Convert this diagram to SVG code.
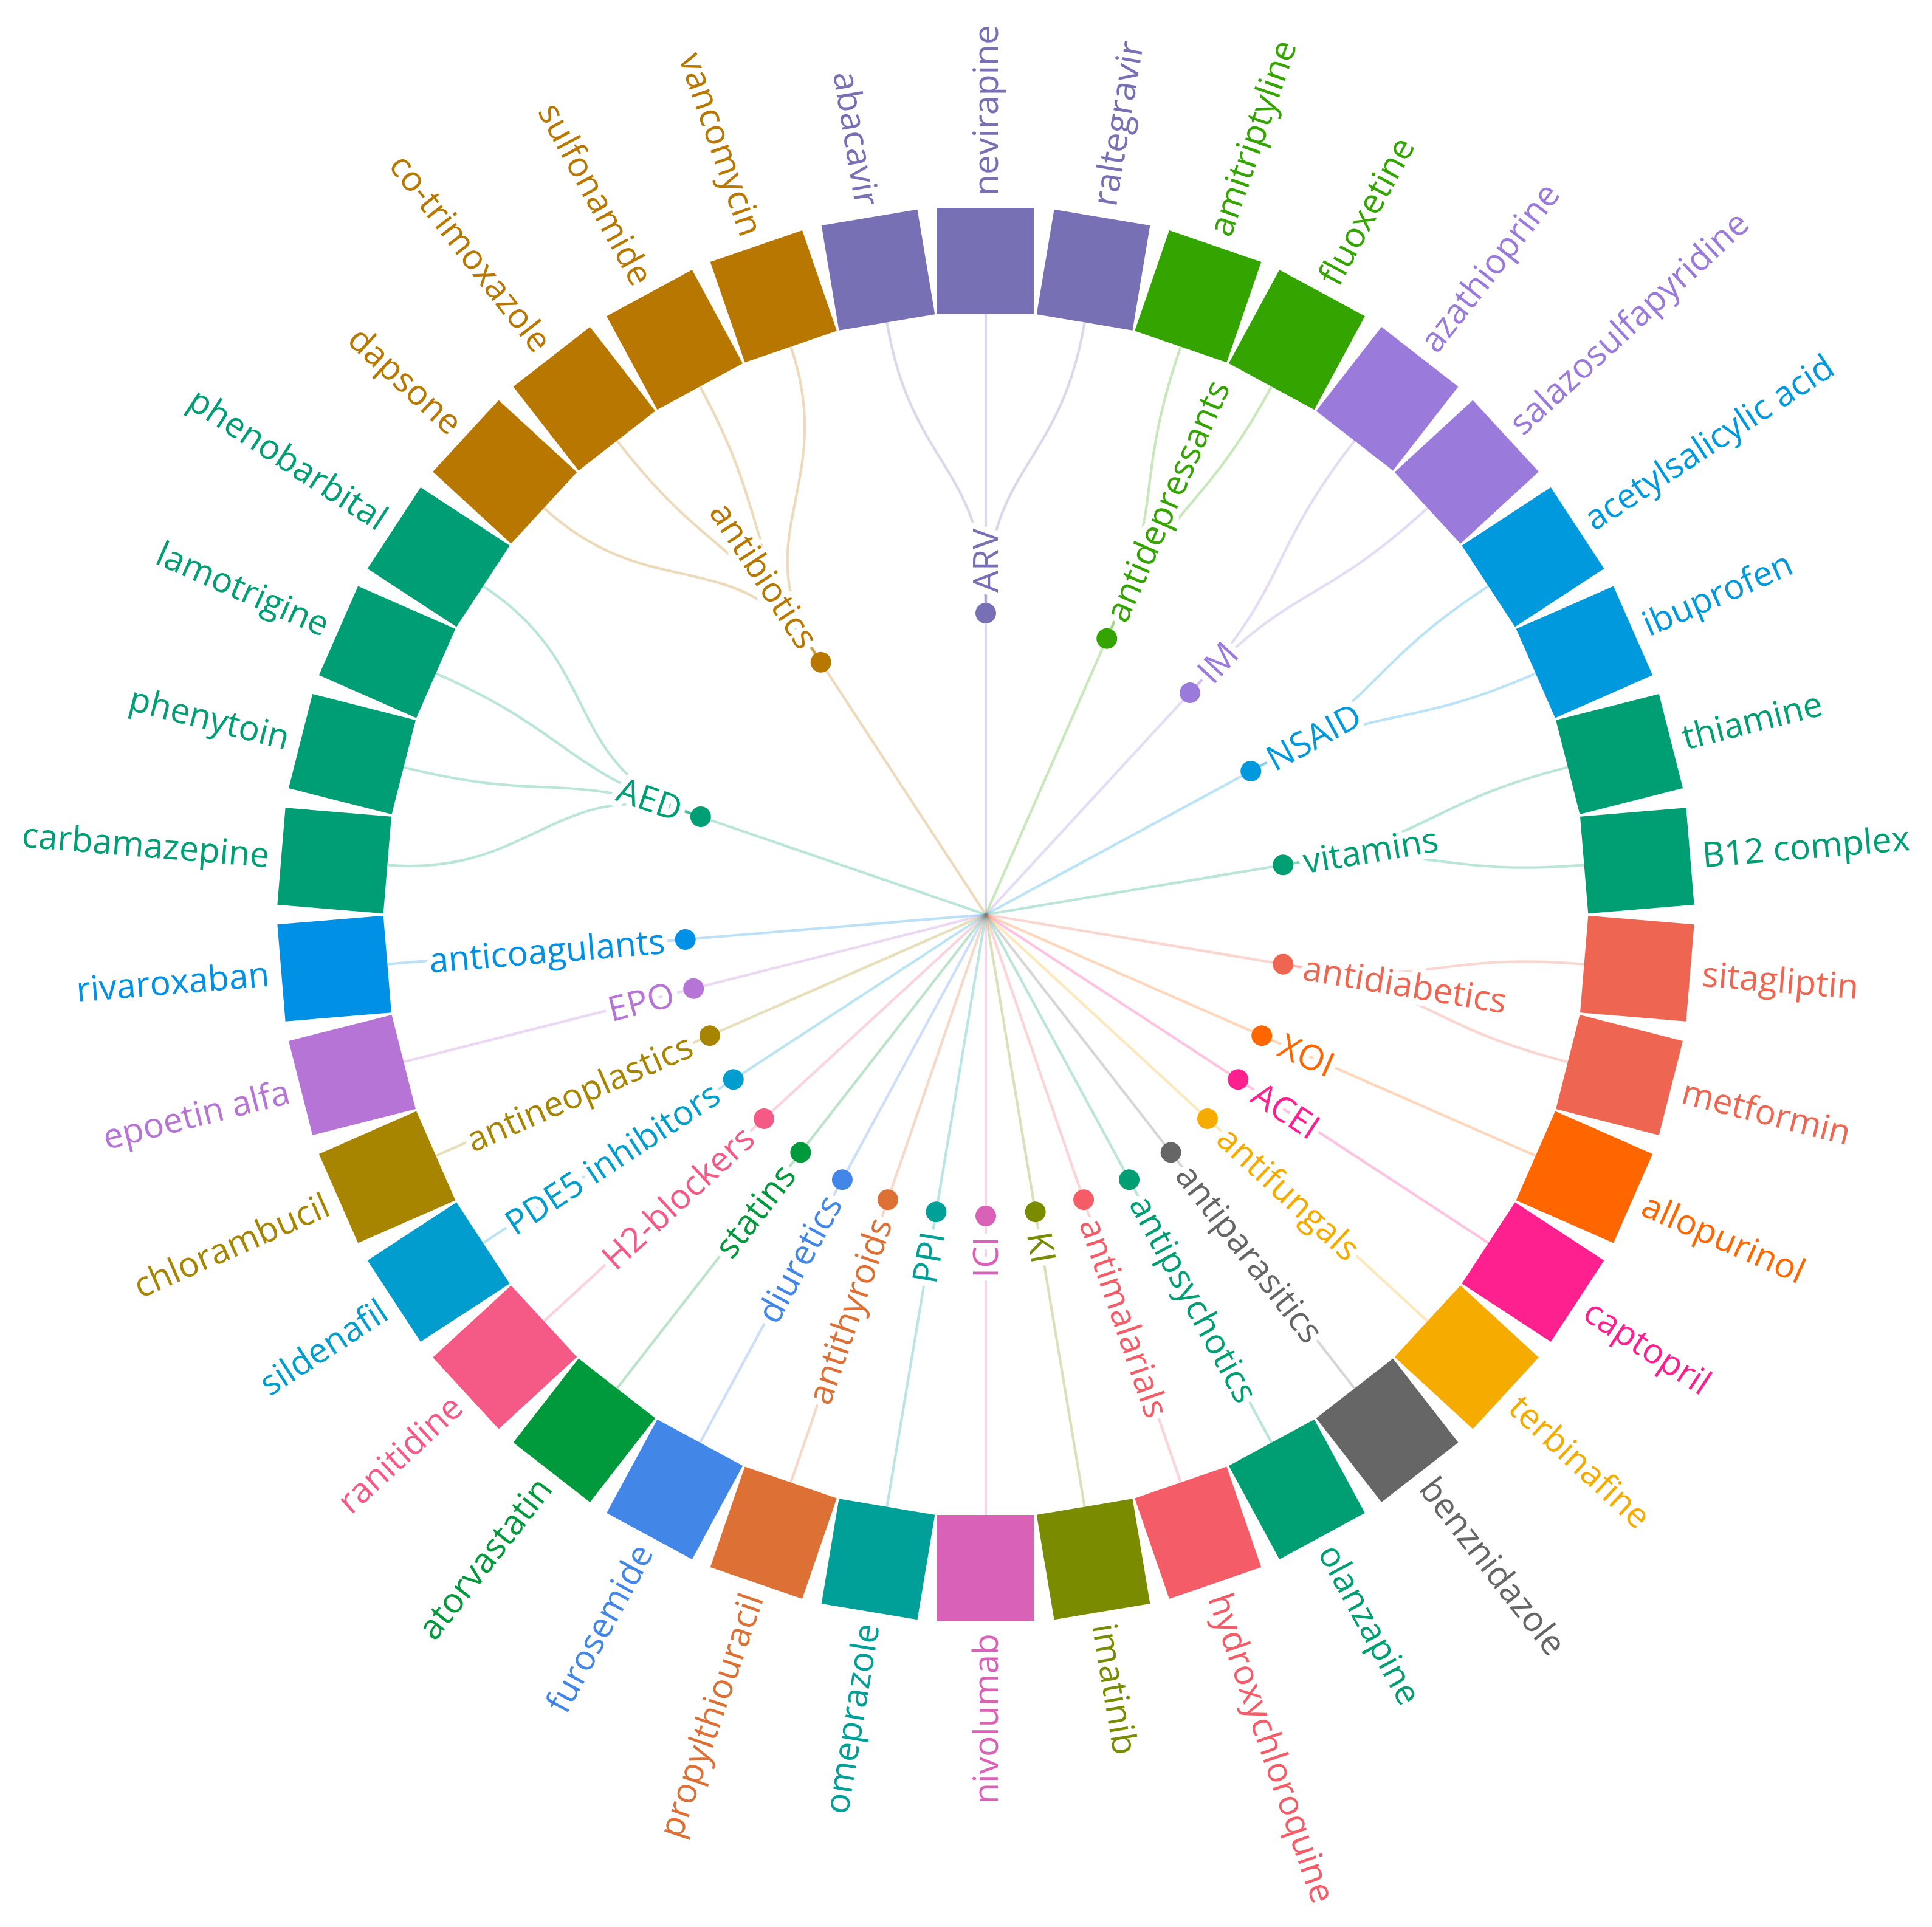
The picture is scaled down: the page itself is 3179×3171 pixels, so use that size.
<svg xmlns="http://www.w3.org/2000/svg" width="3179" height="3171" viewBox="0 0 3179 3171">
<style>
.t{font-family:"Open Sans","Noto Sans","Liberation Sans",sans-serif;font-size:57px;}
.h{stroke:#fff;stroke-width:20px;stroke-linejoin:round;paint-order:stroke;}
.lk{fill:none;stroke-width:4.2;stroke-opacity:0.27;}
.arv{fill:#7870B5}.Sarv{stroke:#7870B5}
.adp{fill:#34A500}.Sadp{stroke:#34A500}
.im{fill:#9A7BDB}.Sim{stroke:#9A7BDB}
.nsaid{fill:#0099DD}.Snsaid{stroke:#0099DD}
.vit{fill:#009E73}.Svit{stroke:#009E73}
.adb{fill:#EE6652}.Sadb{stroke:#EE6652}
.xoi{fill:#FF6600}.Sxoi{stroke:#FF6600}
.acei{fill:#FF2090}.Sacei{stroke:#FF2090}
.afu{fill:#F5AB00}.Safu{stroke:#F5AB00}
.apa{fill:#666666}.Sapa{stroke:#666666}
.aps{fill:#009E73}.Saps{stroke:#009E73}
.ama{fill:#F45D68}.Sama{stroke:#F45D68}
.ki{fill:#7A8B00}.Ski{stroke:#7A8B00}
.ici{fill:#D962B6}.Sici{stroke:#D962B6}
.ppi{fill:#00A099}.Sppi{stroke:#00A099}
.ath{fill:#DD7035}.Sath{stroke:#DD7035}
.diu{fill:#4286E8}.Sdiu{stroke:#4286E8}
.sta{fill:#00993B}.Ssta{stroke:#00993B}
.h2{fill:#F55A87}.Sh2{stroke:#F55A87}
.pde{fill:#009DCE}.Spde{stroke:#009DCE}
.ane{fill:#A88500}.Sane{stroke:#A88500}
.epo{fill:#B674D6}.Sepo{stroke:#B674D6}
.aco{fill:#0090E6}.Saco{stroke:#0090E6}
.aed{fill:#009E74}.Saed{stroke:#009E74}
.abx{fill:#B87800}.Sabx{stroke:#B87800}
</style>
<rect width="3179" height="3171" fill="#fff"/>
<g transform="translate(1622,1505)">
<g id="connectors">
<line class="lk Sarv" x1="0" y1="0" x2="496" y2="0" transform="rotate(-90)"/>
<line class="lk Sadp" x1="0" y1="0" x2="496" y2="0" transform="rotate(-66.316)"/>
<line class="lk Sim" x1="0" y1="0" x2="496" y2="0" transform="rotate(-47.368)"/>
<line class="lk Snsaid" x1="0" y1="0" x2="496" y2="0" transform="rotate(-28.421)"/>
<line class="lk Svit" x1="0" y1="0" x2="496" y2="0" transform="rotate(-9.474)"/>
<line class="lk Sadb" x1="0" y1="0" x2="496" y2="0" transform="rotate(9.474)"/>
<line class="lk Saed" x1="0" y1="0" x2="496" y2="0" transform="rotate(198.947)"/>
<line class="lk Sabx" x1="0" y1="0" x2="496" y2="0" transform="rotate(236.842)"/>
<line class="lk Sxoi" x1="0" y1="0" x2="988" y2="0" transform="rotate(23.684)"/>
<line class="lk Sacei" x1="0" y1="0" x2="988" y2="0" transform="rotate(33.158)"/>
<line class="lk Safu" x1="0" y1="0" x2="988" y2="0" transform="rotate(42.632)"/>
<line class="lk Sapa" x1="0" y1="0" x2="988" y2="0" transform="rotate(52.105)"/>
<line class="lk Saps" x1="0" y1="0" x2="988" y2="0" transform="rotate(61.579)"/>
<line class="lk Sama" x1="0" y1="0" x2="988" y2="0" transform="rotate(71.053)"/>
<line class="lk Ski" x1="0" y1="0" x2="988" y2="0" transform="rotate(80.526)"/>
<line class="lk Sici" x1="0" y1="0" x2="988" y2="0" transform="rotate(90)"/>
<line class="lk Sppi" x1="0" y1="0" x2="988" y2="0" transform="rotate(99.474)"/>
<line class="lk Sath" x1="0" y1="0" x2="988" y2="0" transform="rotate(108.947)"/>
<line class="lk Sdiu" x1="0" y1="0" x2="988" y2="0" transform="rotate(118.421)"/>
<line class="lk Ssta" x1="0" y1="0" x2="988" y2="0" transform="rotate(127.895)"/>
<line class="lk Sh2" x1="0" y1="0" x2="988" y2="0" transform="rotate(137.368)"/>
<line class="lk Spde" x1="0" y1="0" x2="988" y2="0" transform="rotate(146.842)"/>
<line class="lk Sane" x1="0" y1="0" x2="988" y2="0" transform="rotate(156.316)"/>
<line class="lk Sepo" x1="0" y1="0" x2="988" y2="0" transform="rotate(165.789)"/>
<line class="lk Saco" x1="0" y1="0" x2="988" y2="0" transform="rotate(175.263)"/>
<path class="lk Sarv" d="M0,-496C0,-742 -122.13,-731.88 -162.61,-974.52"/>
<path class="lk Sarv" d="M0,-496L0,-988"/>
<path class="lk Sarv" d="M0,-496C0,-742 122.13,-731.88 162.61,-974.52"/>
<path class="lk Sadp" d="M199.24,-454.23C298.06,-679.52 240.93,-701.80 320.80,-934.47"/>
<path class="lk Sadp" d="M199.24,-454.23C298.06,-679.52 353.15,-652.57 470.24,-868.92"/>
<path class="lk Sim" d="M335.94,-364.91C502.55,-545.90 455.75,-585.54 606.85,-779.67"/>
<path class="lk Sim" d="M335.94,-364.91C502.55,-545.90 545.90,-502.55 726.88,-669.16"/>
<path class="lk Snsaid" d="M436.22,-236.07C652.57,-353.15 621.18,-405.84 827.12,-540.39"/>
<path class="lk Snsaid" d="M436.22,-236.07C652.57,-353.15 679.52,-298.06 904.80,-396.88"/>
<path class="lk Svit" d="M489.23,-81.64C731.88,-122.13 719.30,-182.15 957.78,-242.54"/>
<path class="lk Svit" d="M489.23,-81.64C731.88,-122.13 739.46,-61.27 984.62,-81.59"/>
<path class="lk Sadb" d="M489.23,81.64C731.88,122.13 739.46,61.27 984.62,81.59"/>
<path class="lk Sadb" d="M489.23,81.64C731.88,122.13 719.30,182.15 957.78,242.54"/>
<path class="lk Saed" d="M-469.13,-161.05C-701.80,-240.93 -739.46,-61.27 -984.62,-81.59"/>
<path class="lk Saed" d="M-469.13,-161.05C-701.80,-240.93 -719.30,-182.15 -957.78,-242.54"/>
<path class="lk Saed" d="M-469.13,-161.05C-701.80,-240.93 -679.52,-298.06 -904.80,-396.88"/>
<path class="lk Saed" d="M-469.13,-161.05C-701.80,-240.93 -621.18,-405.84 -827.12,-540.39"/>
<path class="lk Sabx" d="M-271.29,-415.24C-405.84,-621.18 -545.90,-502.55 -726.88,-669.16"/>
<path class="lk Sabx" d="M-271.29,-415.24C-405.84,-621.18 -455.75,-585.54 -606.85,-779.67"/>
<path class="lk Sabx" d="M-271.29,-415.24C-405.84,-621.18 -353.15,-652.57 -470.24,-868.92"/>
<path class="lk Sabx" d="M-271.29,-415.24C-405.84,-621.18 -240.93,-701.80 -320.80,-934.47"/>
</g>
<g id="drugs">
<g id="d-nevirapine"><rect class="arv" x="988" y="-80" width="175" height="160" transform="rotate(-90)"/><text class="t arv" dy="20" transform="rotate(-90) translate(1183,0)">nevirapine</text></g>
<g id="d-raltegravir"><rect class="arv" x="988" y="-80" width="175" height="160" transform="rotate(-80.526)"/><text class="t arv" dy="20" transform="rotate(-80.526) translate(1183,0)">raltegravir</text></g>
<g id="d-amitriptyline"><rect class="adp" x="988" y="-80" width="175" height="160" transform="rotate(-71.053)"/><text class="t adp" dy="20" transform="rotate(-71.053) translate(1183,0)">amitriptyline</text></g>
<g id="d-fluoxetine"><rect class="adp" x="988" y="-80" width="175" height="160" transform="rotate(-61.579)"/><text class="t adp" dy="20" transform="rotate(-61.579) translate(1183,0)">fluoxetine</text></g>
<g id="d-azathioprine"><rect class="im" x="988" y="-80" width="175" height="160" transform="rotate(-52.105)"/><text class="t im" dy="20" transform="rotate(-52.105) translate(1183,0)">azathioprine</text></g>
<g id="d-salazosulfapyridine"><rect class="im" x="988" y="-80" width="175" height="160" transform="rotate(-42.632)"/><text class="t im" dy="20" transform="rotate(-42.632) translate(1183,0)">salazosulfapyridine</text></g>
<g id="d-acetylsalicylic-acid"><rect class="nsaid" x="988" y="-80" width="175" height="160" transform="rotate(-33.158)"/><text class="t nsaid" dy="20" transform="rotate(-33.158) translate(1183,0)">acetylsalicylic acid</text></g>
<g id="d-ibuprofen"><rect class="nsaid" x="988" y="-80" width="175" height="160" transform="rotate(-23.684)"/><text class="t nsaid" dy="20" transform="rotate(-23.684) translate(1183,0)">ibuprofen</text></g>
<g id="d-thiamine"><rect class="vit" x="988" y="-80" width="175" height="160" transform="rotate(-14.211)"/><text class="t vit" dy="20" transform="rotate(-14.211) translate(1183,0)">thiamine</text></g>
<g id="d-b12-complex"><rect class="vit" x="988" y="-80" width="175" height="160" transform="rotate(-4.737)"/><text class="t vit" dy="20" transform="rotate(-4.737) translate(1183,0)">B12 complex</text></g>
<g id="d-sitagliptin"><rect class="adb" x="988" y="-80" width="175" height="160" transform="rotate(4.737)"/><text class="t adb" dy="20" transform="rotate(4.737) translate(1183,0)">sitagliptin</text></g>
<g id="d-metformin"><rect class="adb" x="988" y="-80" width="175" height="160" transform="rotate(14.211)"/><text class="t adb" dy="20" transform="rotate(14.211) translate(1183,0)">metformin</text></g>
<g id="d-allopurinol"><rect class="xoi" x="988" y="-80" width="175" height="160" transform="rotate(23.684)"/><text class="t xoi" dy="20" transform="rotate(23.684) translate(1183,0)">allopurinol</text></g>
<g id="d-captopril"><rect class="acei" x="988" y="-80" width="175" height="160" transform="rotate(33.158)"/><text class="t acei" dy="20" transform="rotate(33.158) translate(1183,0)">captopril</text></g>
<g id="d-terbinafine"><rect class="afu" x="988" y="-80" width="175" height="160" transform="rotate(42.632)"/><text class="t afu" dy="20" transform="rotate(42.632) translate(1183,0)">terbinafine</text></g>
<g id="d-benznidazole"><rect class="apa" x="988" y="-80" width="175" height="160" transform="rotate(52.105)"/><text class="t apa" dy="20" transform="rotate(52.105) translate(1183,0)">benznidazole</text></g>
<g id="d-olanzapine"><rect class="aps" x="988" y="-80" width="175" height="160" transform="rotate(61.579)"/><text class="t aps" dy="20" transform="rotate(61.579) translate(1183,0)">olanzapine</text></g>
<g id="d-hydroxychloroquine"><rect class="ama" x="988" y="-80" width="175" height="160" transform="rotate(71.053)"/><text class="t ama" dy="20" transform="rotate(71.053) translate(1183,0)">hydroxychloroquine</text></g>
<g id="d-imatinib"><rect class="ki" x="988" y="-80" width="175" height="160" transform="rotate(80.526)"/><text class="t ki" dy="20" transform="rotate(80.526) translate(1183,0)">imatinib</text></g>
<g id="d-nivolumab"><rect class="ici" x="988" y="-80" width="175" height="160" transform="rotate(90)"/><text class="t ici" dy="20" text-anchor="end" transform="rotate(90) translate(1183,0) rotate(180)">nivolumab</text></g>
<g id="d-omeprazole"><rect class="ppi" x="988" y="-80" width="175" height="160" transform="rotate(99.474)"/><text class="t ppi" dy="20" text-anchor="end" transform="rotate(99.474) translate(1183,0) rotate(180)">omeprazole</text></g>
<g id="d-propylthiouracil"><rect class="ath" x="988" y="-80" width="175" height="160" transform="rotate(108.947)"/><text class="t ath" dy="20" text-anchor="end" transform="rotate(108.947) translate(1183,0) rotate(180)">propylthiouracil</text></g>
<g id="d-furosemide"><rect class="diu" x="988" y="-80" width="175" height="160" transform="rotate(118.421)"/><text class="t diu" dy="20" text-anchor="end" transform="rotate(118.421) translate(1183,0) rotate(180)">furosemide</text></g>
<g id="d-atorvastatin"><rect class="sta" x="988" y="-80" width="175" height="160" transform="rotate(127.895)"/><text class="t sta" dy="20" text-anchor="end" transform="rotate(127.895) translate(1183,0) rotate(180)">atorvastatin</text></g>
<g id="d-ranitidine"><rect class="h2" x="988" y="-80" width="175" height="160" transform="rotate(137.368)"/><text class="t h2" dy="20" text-anchor="end" transform="rotate(137.368) translate(1183,0) rotate(180)">ranitidine</text></g>
<g id="d-sildenafil"><rect class="pde" x="988" y="-80" width="175" height="160" transform="rotate(146.842)"/><text class="t pde" dy="20" text-anchor="end" transform="rotate(146.842) translate(1183,0) rotate(180)">sildenafil</text></g>
<g id="d-chlorambucil"><rect class="ane" x="988" y="-80" width="175" height="160" transform="rotate(156.316)"/><text class="t ane" dy="20" text-anchor="end" transform="rotate(156.316) translate(1183,0) rotate(180)">chlorambucil</text></g>
<g id="d-epoetin-alfa"><rect class="epo" x="988" y="-80" width="175" height="160" transform="rotate(165.789)"/><text class="t epo" dy="20" text-anchor="end" transform="rotate(165.789) translate(1183,0) rotate(180)">epoetin alfa</text></g>
<g id="d-rivaroxaban"><rect class="aco" x="988" y="-80" width="175" height="160" transform="rotate(175.263)"/><text class="t aco" dy="20" text-anchor="end" transform="rotate(175.263) translate(1183,0) rotate(180)">rivaroxaban</text></g>
<g id="d-carbamazepine"><rect class="aed" x="988" y="-80" width="175" height="160" transform="rotate(184.737)"/><text class="t aed" dy="20" text-anchor="end" transform="rotate(184.737) translate(1183,0) rotate(180)">carbamazepine</text></g>
<g id="d-phenytoin"><rect class="aed" x="988" y="-80" width="175" height="160" transform="rotate(194.211)"/><text class="t aed" dy="20" text-anchor="end" transform="rotate(194.211) translate(1183,0) rotate(180)">phenytoin</text></g>
<g id="d-lamotrigine"><rect class="aed" x="988" y="-80" width="175" height="160" transform="rotate(203.684)"/><text class="t aed" dy="20" text-anchor="end" transform="rotate(203.684) translate(1183,0) rotate(180)">lamotrigine</text></g>
<g id="d-phenobarbital"><rect class="aed" x="988" y="-80" width="175" height="160" transform="rotate(213.158)"/><text class="t aed" dy="20" text-anchor="end" transform="rotate(213.158) translate(1183,0) rotate(180)">phenobarbital</text></g>
<g id="d-dapsone"><rect class="abx" x="988" y="-80" width="175" height="160" transform="rotate(222.632)"/><text class="t abx" dy="20" text-anchor="end" transform="rotate(222.632) translate(1183,0) rotate(180)">dapsone</text></g>
<g id="d-co-trimoxazole"><rect class="abx" x="988" y="-80" width="175" height="160" transform="rotate(232.105)"/><text class="t abx" dy="20" text-anchor="end" transform="rotate(232.105) translate(1183,0) rotate(180)">co-trimoxazole</text></g>
<g id="d-sulfonamide"><rect class="abx" x="988" y="-80" width="175" height="160" transform="rotate(241.579)"/><text class="t abx" dy="20" text-anchor="end" transform="rotate(241.579) translate(1183,0) rotate(180)">sulfonamide</text></g>
<g id="d-vancomycin"><rect class="abx" x="988" y="-80" width="175" height="160" transform="rotate(251.053)"/><text class="t abx" dy="20" text-anchor="end" transform="rotate(251.053) translate(1183,0) rotate(180)">vancomycin</text></g>
<g id="d-abacavir"><rect class="arv" x="988" y="-80" width="175" height="160" transform="rotate(260.526)"/><text class="t arv" dy="20" text-anchor="end" transform="rotate(260.526) translate(1183,0) rotate(180)">abacavir</text></g>
</g>
<g id="categories">
<g id="c-ARV"><circle class="arv" cx="496" cy="0" r="17" transform="rotate(-90)"/><text class="t h arv" dy="20" transform="rotate(-90) translate(530,0)">ARV</text></g>
<g id="c-antidepressants"><circle class="adp" cx="496" cy="0" r="17" transform="rotate(-66.316)"/><text class="t h adp" dy="20" transform="rotate(-66.316) translate(530,0)">antidepressants</text></g>
<g id="c-IM"><circle class="im" cx="496" cy="0" r="17" transform="rotate(-47.368)"/><text class="t h im" dy="20" transform="rotate(-47.368) translate(530,0)">IM</text></g>
<g id="c-NSAID"><circle class="nsaid" cx="496" cy="0" r="17" transform="rotate(-28.421)"/><text class="t h nsaid" dy="20" transform="rotate(-28.421) translate(530,0)">NSAID</text></g>
<g id="c-vitamins"><circle class="vit" cx="496" cy="0" r="17" transform="rotate(-9.474)"/><text class="t h vit" dy="20" transform="rotate(-9.474) translate(530,0)">vitamins</text></g>
<g id="c-antidiabetics"><circle class="adb" cx="496" cy="0" r="17" transform="rotate(9.474)"/><text class="t h adb" dy="20" transform="rotate(9.474) translate(530,0)">antidiabetics</text></g>
<g id="c-XOI"><circle class="xoi" cx="496" cy="0" r="17" transform="rotate(23.684)"/><text class="t h xoi" dy="20" transform="rotate(23.684) translate(530,0)">XOI</text></g>
<g id="c-ACEI"><circle class="acei" cx="496" cy="0" r="17" transform="rotate(33.158)"/><text class="t h acei" dy="20" transform="rotate(33.158) translate(530,0)">ACEI</text></g>
<g id="c-antifungals"><circle class="afu" cx="496" cy="0" r="17" transform="rotate(42.632)"/><text class="t h afu" dy="20" transform="rotate(42.632) translate(530,0)">antifungals</text></g>
<g id="c-antiparasitics"><circle class="apa" cx="496" cy="0" r="17" transform="rotate(52.105)"/><text class="t h apa" dy="20" transform="rotate(52.105) translate(530,0)">antiparasitics</text></g>
<g id="c-antipsychotics"><circle class="aps" cx="496" cy="0" r="17" transform="rotate(61.579)"/><text class="t h aps" dy="20" transform="rotate(61.579) translate(530,0)">antipsychotics</text></g>
<g id="c-antimalarials"><circle class="ama" cx="496" cy="0" r="17" transform="rotate(71.053)"/><text class="t h ama" dy="20" transform="rotate(71.053) translate(530,0)">antimalarials</text></g>
<g id="c-KI"><circle class="ki" cx="496" cy="0" r="17" transform="rotate(80.526)"/><text class="t h ki" dy="20" transform="rotate(80.526) translate(530,0)">KI</text></g>
<g id="c-ICI"><circle class="ici" cx="496" cy="0" r="17" transform="rotate(90)"/><text class="t h ici" dy="20" text-anchor="end" transform="rotate(90) translate(530,0) rotate(180)">ICI</text></g>
<g id="c-PPI"><circle class="ppi" cx="496" cy="0" r="17" transform="rotate(99.474)"/><text class="t h ppi" dy="20" text-anchor="end" transform="rotate(99.474) translate(530,0) rotate(180)">PPI</text></g>
<g id="c-antithyroids"><circle class="ath" cx="496" cy="0" r="17" transform="rotate(108.947)"/><text class="t h ath" dy="20" text-anchor="end" transform="rotate(108.947) translate(530,0) rotate(180)">antithyroids</text></g>
<g id="c-diuretics"><circle class="diu" cx="496" cy="0" r="17" transform="rotate(118.421)"/><text class="t h diu" dy="20" text-anchor="end" transform="rotate(118.421) translate(530,0) rotate(180)">diuretics</text></g>
<g id="c-statins"><circle class="sta" cx="496" cy="0" r="17" transform="rotate(127.895)"/><text class="t h sta" dy="20" text-anchor="end" transform="rotate(127.895) translate(530,0) rotate(180)">statins</text></g>
<g id="c-H2-blockers"><circle class="h2" cx="496" cy="0" r="17" transform="rotate(137.368)"/><text class="t h h2" dy="20" text-anchor="end" transform="rotate(137.368) translate(530,0) rotate(180)">H2-blockers</text></g>
<g id="c-PDE5-inhibitors"><circle class="pde" cx="496" cy="0" r="17" transform="rotate(146.842)"/><text class="t h pde" dy="20" text-anchor="end" transform="rotate(146.842) translate(530,0) rotate(180)">PDE5 inhibitors</text></g>
<g id="c-antineoplastics"><circle class="ane" cx="496" cy="0" r="17" transform="rotate(156.316)"/><text class="t h ane" dy="20" text-anchor="end" transform="rotate(156.316) translate(530,0) rotate(180)">antineoplastics</text></g>
<g id="c-EPO"><circle class="epo" cx="496" cy="0" r="17" transform="rotate(165.789)"/><text class="t h epo" dy="20" text-anchor="end" transform="rotate(165.789) translate(530,0) rotate(180)">EPO</text></g>
<g id="c-anticoagulants"><circle class="aco" cx="496" cy="0" r="17" transform="rotate(175.263)"/><text class="t h aco" dy="20" text-anchor="end" transform="rotate(175.263) translate(530,0) rotate(180)">anticoagulants</text></g>
<g id="c-AED"><circle class="aed" cx="496" cy="0" r="17" transform="rotate(198.947)"/><text class="t h aed" dy="20" text-anchor="end" transform="rotate(198.947) translate(530,0) rotate(180)">AED</text></g>
<g id="c-antibiotics"><circle class="abx" cx="496" cy="0" r="17" transform="rotate(236.842)"/><text class="t h abx" dy="20" text-anchor="end" transform="rotate(236.842) translate(530,0) rotate(180)">antibiotics</text></g>
</g>
</g>
</svg>
